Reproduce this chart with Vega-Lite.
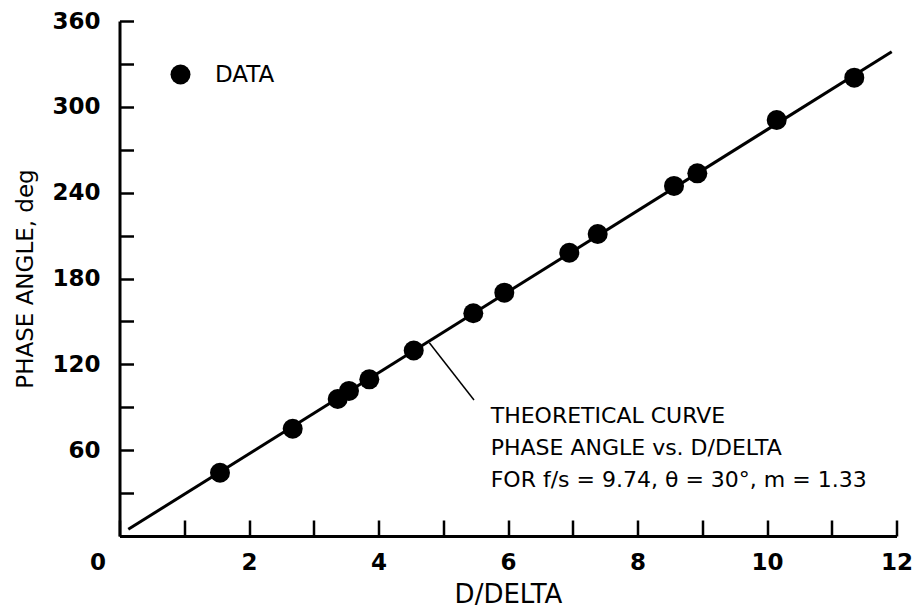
{
  "$schema": "https://vega.github.io/schema/vega-lite/v6.json",
  "width": 777,
  "height": 515,
  "autosize": {"type": "none"},
  "padding": {"left": 119.5, "top": 21, "right": 20.5, "bottom": 71},
  "background": "white",
  "config": {"view": {"stroke": null}},
  "datasets": {
    "points": [
      {"d": 1.552, "phase": 44.2, "series": "DATA"},
      {"d": 2.675, "phase": 75.0, "series": "DATA"},
      {"d": 3.370, "phase": 95.8, "series": "DATA"},
      {"d": 3.544, "phase": 101.4, "series": "DATA"},
      {"d": 3.858, "phase": 109.5, "series": "DATA"},
      {"d": 4.544, "phase": 129.7, "series": "DATA"},
      {"d": 5.464, "phase": 155.7, "series": "DATA"},
      {"d": 5.943, "phase": 170.1, "series": "DATA"},
      {"d": 6.947, "phase": 198.0, "series": "DATA"},
      {"d": 7.385, "phase": 211.1, "series": "DATA"},
      {"d": 8.564, "phase": 244.7, "series": "DATA"},
      {"d": 8.924, "phase": 253.5, "series": "DATA"},
      {"d": 10.150, "phase": 290.8, "series": "DATA"},
      {"d": 11.348, "phase": 320.4, "series": "DATA"}
    ],
    "curve": [
      {"d": 0.136, "phase": 4.7},
      {"d": 11.926, "phase": 338.5}
    ],
    "leader": [
      {"d": 4.785, "phase": 135.1, "d2": 5.475, "phase2": 95.1}
    ],
    "notes": [
      {"d": 5.733, "phase": 79.0, "label": "THEORETICAL CURVE"},
      {"d": 5.733, "phase": 56.6, "label": "PHASE ANGLE vs. D/DELTA"},
      {"d": 5.733, "phase": 34.5, "label": "FOR f/s = 9.74, θ = 30°, m = 1.33"}
    ]
  },
  "layer": [
    {
      "data": {"name": "curve"},
      "mark": {"type": "line", "color": "black", "strokeWidth": 3},
      "encoding": {
        "x": {
          "field": "d", "type": "quantitative",
          "scale": {"domain": [0, 12], "nice": false, "zero": false},
          "axis": {
            "title": "D/DELTA",
            "values": [0, 1, 2, 3, 4, 5, 6, 7, 8, 9, 10, 11, 12],
            "format": "d",
            "labelExpr": "datum.value % 2 === 0 ? datum.label : ''",
            "grid": false,
            "tickSize": -16, "tickWidth": 2.5, "tickColor": "black",
            "domainColor": "black", "domainWidth": 3,
            "labelFont": "DejaVu Sans", "labelFontWeight": "bold", "labelFontSize": 23,
            "labelColor": "black", "labelPadding": 31, "labelFlush": false, "labelOverlap": false,
            "labelOffset": {"condition": {"test": "datum.value === 0", "value": -22}, "value": 0},
            "titleFont": "DejaVu Sans", "titleFontSize": 26, "titleFontWeight": "normal",
            "titleColor": "black", "titleBaseline": "alphabetic", "titleY": 66
          }
        },
        "y": {
          "field": "phase", "type": "quantitative",
          "scale": {"domain": [0, 360], "nice": false},
          "axis": {
            "title": "PHASE ANGLE, deg",
            "values": [0, 30, 60, 90, 120, 150, 180, 210, 240, 270, 300, 330, 360],
            "format": "d",
            "labelExpr": "datum.value % 60 === 0 && datum.value > 0 ? datum.label : ''",
            "grid": false,
            "tickSize": -14, "tickWidth": 2.5, "tickColor": "black",
            "domainColor": "black", "domainWidth": 3,
            "labelFont": "DejaVu Sans", "labelFontWeight": "bold", "labelFontSize": 23,
            "labelColor": "black", "labelPadding": 33.5, "labelFlush": false, "labelOverlap": false,
            "titleFont": "DejaVu Sans", "titleFontSize": 23, "titleFontWeight": "normal",
            "titleColor": "black", "titleBaseline": "alphabetic", "titleX": -87, "titleY": 257.5, "titleAngle": 270
          }
        }
      }
    },
    {
      "data": {"name": "leader"},
      "mark": {"type": "rule", "color": "black", "strokeWidth": 1.5},
      "encoding": {
        "x": {"field": "d", "type": "quantitative"},
        "y": {"field": "phase", "type": "quantitative"},
        "x2": {"field": "d2"},
        "y2": {"field": "phase2"}
      }
    },
    {
      "data": {"name": "points"},
      "mark": {"type": "point", "filled": true, "size": 400, "opacity": 1, "shape": "circle"},
      "encoding": {
        "x": {"field": "d", "type": "quantitative"},
        "y": {"field": "phase", "type": "quantitative"},
        "color": {
          "field": "series", "type": "nominal",
          "scale": {"domain": ["DATA"], "range": ["black"]},
          "legend": {
            "orient": "none", "legendX": 49.5, "legendY": 42, "title": null,
            "symbolType": "circle", "symbolSize": 400, "symbolFillColor": "black",
            "symbolStrokeWidth": 0, "symbolOpacity": 1,
            "labelFont": "DejaVu Sans", "labelFontSize": 23, "labelColor": "black",
            "labelOffset": 23, "padding": 0
          }
        }
      }
    },
    {
      "data": {"name": "notes"},
      "mark": {"type": "text", "align": "left", "baseline": "alphabetic", "font": "DejaVu Sans", "fontSize": 22, "color": "black"},
      "encoding": {
        "x": {"field": "d", "type": "quantitative"},
        "y": {"field": "phase", "type": "quantitative"},
        "text": {"field": "label"}
      }
    }
  ]
}
